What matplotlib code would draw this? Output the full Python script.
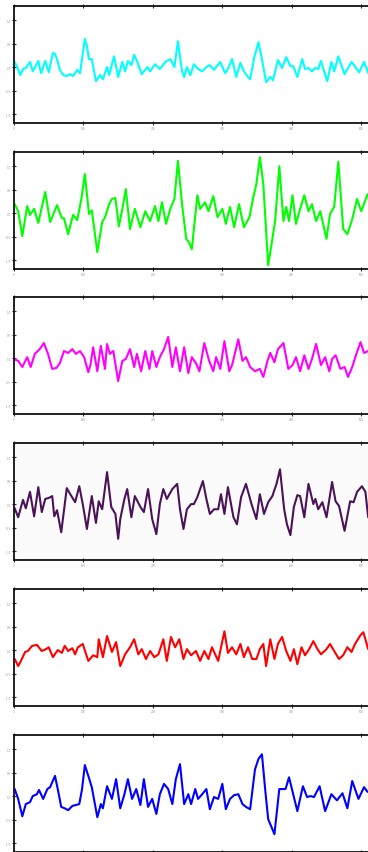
import matplotlib
matplotlib.use("Agg")
import matplotlib.pyplot as plt

# ---- data (x in samples, y in signal units) ----
cyan_x = [0, 4, 9, 13, 17, 23, 27, 35, 39, 45, 50, 56, 59, 62, 66, 71, 76, 81, 85, 91, 95, 99, 102, 105, 108, 112, 118, 124, 128, 134, 137, 144, 150,
          156, 160, 164, 169, 173, 177, 184, 192, 196, 203, 210, 218, 225, 231, 236, 242, 245, 249, 254, 259, 265, 271, 277, 282, 288, 297, 304, 308,
          314, 320, 326, 331, 337, 340, 346, 352, 357, 363, 369, 373, 380, 386, 392, 398, 402, 408, 415, 419, 424, 429, 434, 438, 442, 451, 457, 461,
          467, 476, 486, 497, 504, 510]
cyan_y = [.13, .02, -.17, -.04, -.02, .11, -.09, .13, -.13, .13, -.11, .30, .28, .17, -.06, -.17, -.19, -.15, -.19, -.06, -.13, .28, .60, .45, .17, .17, -.30, -.17, -.26, 0, -.17, .23, -.21,
          .11, -.09, .13, .04, .26, .13, -.15, 0, -.09, .06, -.04, .11, .17, 0, .55, -.09, -.21, 0, -.17, .06, -.04, -.09, 0, .04, -.06, .11, -.13, -.04,
          .17, -.21, .09, -.09, -.21, -.26, .21, .53, .17, -.32, -.21, -.28, .15, -.02, .21, .02, .02, -.21, .17, -.04, -.02, -.09, -.02, -.04, .13, -.30, .11, -.09,
          .23, -.15, .11, -.11, .11, -.13]

green_x = [1, 6, 12, 19, 23, 29, 35, 45, 52, 62, 69, 72, 78, 85, 91, 97, 102, 108, 112, 120, 127, 131, 137, 141, 146, 151,
           156, 161, 167, 174, 182, 189, 196, 203, 208, 213, 219, 225, 231, 236, 242, 248, 252, 256, 264, 268, 275, 280, 287, 293, 300, 305, 311,
           317, 324, 331, 339, 344, 349, 354, 359, 362, 366, 372, 376, 382, 388, 392, 396, 401, 406, 412, 418, 424, 429, 435, 441, 450, 455, 461,
           467, 474, 480, 487, 494, 500, 509]
green_y = [.19, .04, -.49, .15, -.04, .09, -.21, .45, -.19, .17, -.11, -.11, -.45, -.04, -.15, .30, .83, -.02, .06, -.83, -.19, -.09, .19, .30, .32, -.28,
           .09, .51, -.34, .09, -.30, .04, -.17, .15, -.17, .23, -.23, .09, .30, 1.11, .19, -.55, -.62, -.77, .38, .09, .23, .04, .36, -.09, .09, -.23, .13,
           -.30, .19, -.30, -.09, .30, .62, 1.19, .62, -.13, -1.11, -.55, -.17, 1.0, -.17, .13, -.17, .38, -.23, .09, .38, .04, .19, -.17, .04, -.55, -.02, .13,
           1.09, -.34, -.45, -.13, .30, .04, .40]

magenta_x = [0, 6, 12, 19, 24, 30, 37, 43, 49, 55, 61, 66, 72, 78, 84, 89, 95, 101, 107, 110, 114, 120, 125, 131, 134, 138, 143, 150,
             156, 161, 167, 173, 177, 183, 189, 195, 199, 205, 210, 216, 222, 228, 233, 239, 245, 251, 256, 262, 267, 274, 281, 287, 291, 297, 303,
             310, 314, 323, 329, 334, 340, 347, 354, 359, 365, 369, 375, 380, 388, 395, 401, 406, 412, 418, 424, 429, 435, 442, 448, 454, 458, 463,
             470, 476, 481, 487, 493, 499, 504, 510]
magenta_y = [-.02, -.06, -.19, .02, -.19, .09, .19, .32, .09, -.23, -.21, -.11, .15, .11, .19, .09, .15, .02, -.30, -.15, .23, -.28, .26, -.23, .30, .09, .15, -.49,
             -.06, -.02, .19, -.19, .09, -.28, .15, -.23, .15, -.19, .02, .19, .45, -.19, .23, -.28, .23, -.32, .02, -.11, -.28, .32, -.06, -.28, .02, -.23, .36,
             -.28, -.15, .40, -.06, .02, -.19, -.28, -.23, -.40, -.06, .11, -.09, .19, .32, -.23, -.15, .02, -.28, .06, -.23, -.02, .30, -.15, .02, -.28, -.02, .06,
             -.23, -.19, -.40, -.19, .09, .34, .11, .15]

purple_x = [1, 6, 13, 17, 23, 29, 35, 40, 45, 50, 55, 58, 62, 68, 76, 81, 88, 94, 99, 105, 112, 118, 122, 127, 134, 140, 146, 150,
            153, 159, 163, 169, 174, 182, 187, 193, 199, 205, 210, 215, 220, 228, 235, 239, 244, 249, 255, 259, 264, 272, 277, 282, 288, 294, 298,
            303, 308, 316, 321, 327, 334, 342, 349, 354, 360, 366, 372, 378, 383, 389, 393, 398, 403, 408, 412, 418, 424, 431, 434, 438, 444, 450,
            458, 463, 468, 476, 484, 489, 494, 501, 506, 510]
purple_y = [-.09, -.28, .09, -.09, .26, -.26, .36, -.17, .11, .13, .17, -.26, -.13, -.60, .34, .21, .04, .38, 0, -.53, .17, -.40, .06, -.11, .68, -.06, -.21, -.74,
            -.32, .11, .32, -.28, .17, -.06, -.17, .32, -.32, -.64, 0, .32, .11, .32, .43, -.11, -.53, -.11, 0, 0, .15, .49, .11, -.21, -.11, -.11, .21,
            -.21, .36, -.28, -.43, .15, .43, 0, -.32, .21, -.21, .04, .17, .43, .74, -.11, -.43, -.66, -.06, .19, .17, -.28, .43, 0, .11, -.11, .04, -.28,
            .47, .06, -.04, -.57, .06, .04, .26, .38, .26, -.28]

red_x = [1, 6, 10, 16, 20, 26, 33, 40, 46, 50, 56, 63, 69, 73, 78, 84, 88, 92, 99, 107, 114, 120, 122, 128, 134, 141, 147, 153,
         160, 167, 173, 179, 184, 190, 196, 202, 208, 215, 220, 226, 232, 238, 244, 249, 255, 262, 268, 274, 280, 285, 294, 303, 308, 314,
         320, 326, 331, 337, 343, 349, 354, 359, 363, 369, 375, 380, 386, 392, 398, 403, 408, 414, 419, 425, 431, 437, 442, 450, 455, 461,
         468, 474, 480, 486, 491, 499, 503, 510]
red_y = [-.19, -.34, -.23, -.04, -.02, .09, .11, -.02, .02, .06, -.15, 0, -.06, .09, -.02, .04, -.09, .06, .13, -.23, -.11, -.15, .23, -.15, .30, -.04, .17, -.34,
         -.09, .06, .23, -.09, .02, -.19, -.02, -.15, -.09, .23, -.23, .28, .06, .23, -.19, .02, -.11, -.02, -.23, -.02, -.19, .06, -.23, .40, -.06, .06,
         -.09, .13, -.15, .06, -.19, -.19, .02, .13, -.34, .23, -.19, .13, .28, -.02, -.23, .02, -.30, .06, -.11, .02, .19, .02, -.09, .02, .13, -.02,
         -.19, -.11, .06, -.04, .13, .32, .38, .02]

blue_x = [1, 6, 12, 17, 23, 27, 33, 36, 42, 48, 52, 59, 63, 68, 73, 78, 84, 94, 98, 102, 107, 112, 120, 125, 128, 134, 141, 147, 153,
          159, 164, 170, 176, 182, 187, 193, 199, 205, 210, 216, 222, 228, 233, 239, 245, 251, 255, 261, 265, 271, 277, 282, 288, 294, 300,
          305, 311, 317, 323, 329, 334, 340, 347, 352, 357, 362, 366, 375, 382, 388, 391, 396, 408, 416, 422, 427, 432, 440, 448, 457, 465,
          473, 480, 487, 496, 504, 509]
blue_y = [.15, -.06, -.43, -.17, -.13, 0, .04, .13, -.06, .15, .19, .43, .15, -.23, -.26, -.30, -.21, -.17, .15, .66, .43, .19, -.45, -.17, -.26, .21, -.06, .36, -.26,
          .04, .36, -.06, .15, -.19, .36, -.23, -.06, -.38, .04, .26, .15, -.17, .36, .68, -.17, .04, -.17, .15, -.06, .04, .15, -.28, -.02, -.06, .26,
          -.28, -.06, .02, .04, -.17, -.23, -.28, .57, .79, .89, .09, -.49, -.81, .15, .15, .15, .40, -.32, .21, -.02, 0, -.02, .21, -.32, .04, -.09,
          .06, -.26, .32, -.06, .19, .09]

series = [(cyan_x, cyan_y, "#00ffff"), (green_x, green_y, "#00ff00"), (magenta_x, magenta_y, "#ff00ff"),
          (purple_x, purple_y, "#4b1259"), (red_x, red_y, "#ff0000"), (blue_x, blue_y, "#0000ff")]

x_ticks = [0, 100, 200, 300, 400, 500]
y_ticks = [-1.0, -0.5, 0.0, 0.5, 1.0]
x_tick_labels = ["0", "100", "200", "300", "400", "500"]
y_tick_labels = ["-1.0", "-0.5", "0.0", "0.5", "1.0"]

W, H = 368, 853
fig = plt.figure(figsize=(W / 100, H / 100), dpi=100)
fig.patch.set_facecolor("white")

tops = [7, 153, 298, 444, 590, 736]
ph = 117
for i, (xs, ys, col) in enumerate(series):
    ax = fig.add_axes([14 / W, 1 - (tops[i] + ph) / H, 366 / W, ph / H])
    ax.plot(xs, ys, color=col, lw=1.5, solid_joinstyle="round", solid_capstyle="round")
    ax.set_xlim(0, 527)
    ax.set_ylim(-1.19, 1.30)
    if i == 3:
        ax.set_facecolor("#fcfbfb")
    ax.set_xticks(x_ticks)
    ax.set_xticklabels(x_tick_labels)
    ax.set_yticks(y_ticks)
    ax.set_yticklabels(y_tick_labels)
    ax.tick_params(direction="inout", length=3, width=0.8, color="#333333",
                   labelsize=2.0, labelcolor="#999999", pad=0.8, top=True)
    if i == len(series) - 1:
        # bottom edge of the last panel is cropped by the figure edge
        ax.tick_params(axis="x", labelbottom=False)
    for sp in ax.spines.values():
        sp.set_linewidth(1.3)
        sp.set_color("#111111")

fig.savefig("out.png", dpi=100, facecolor="white")
